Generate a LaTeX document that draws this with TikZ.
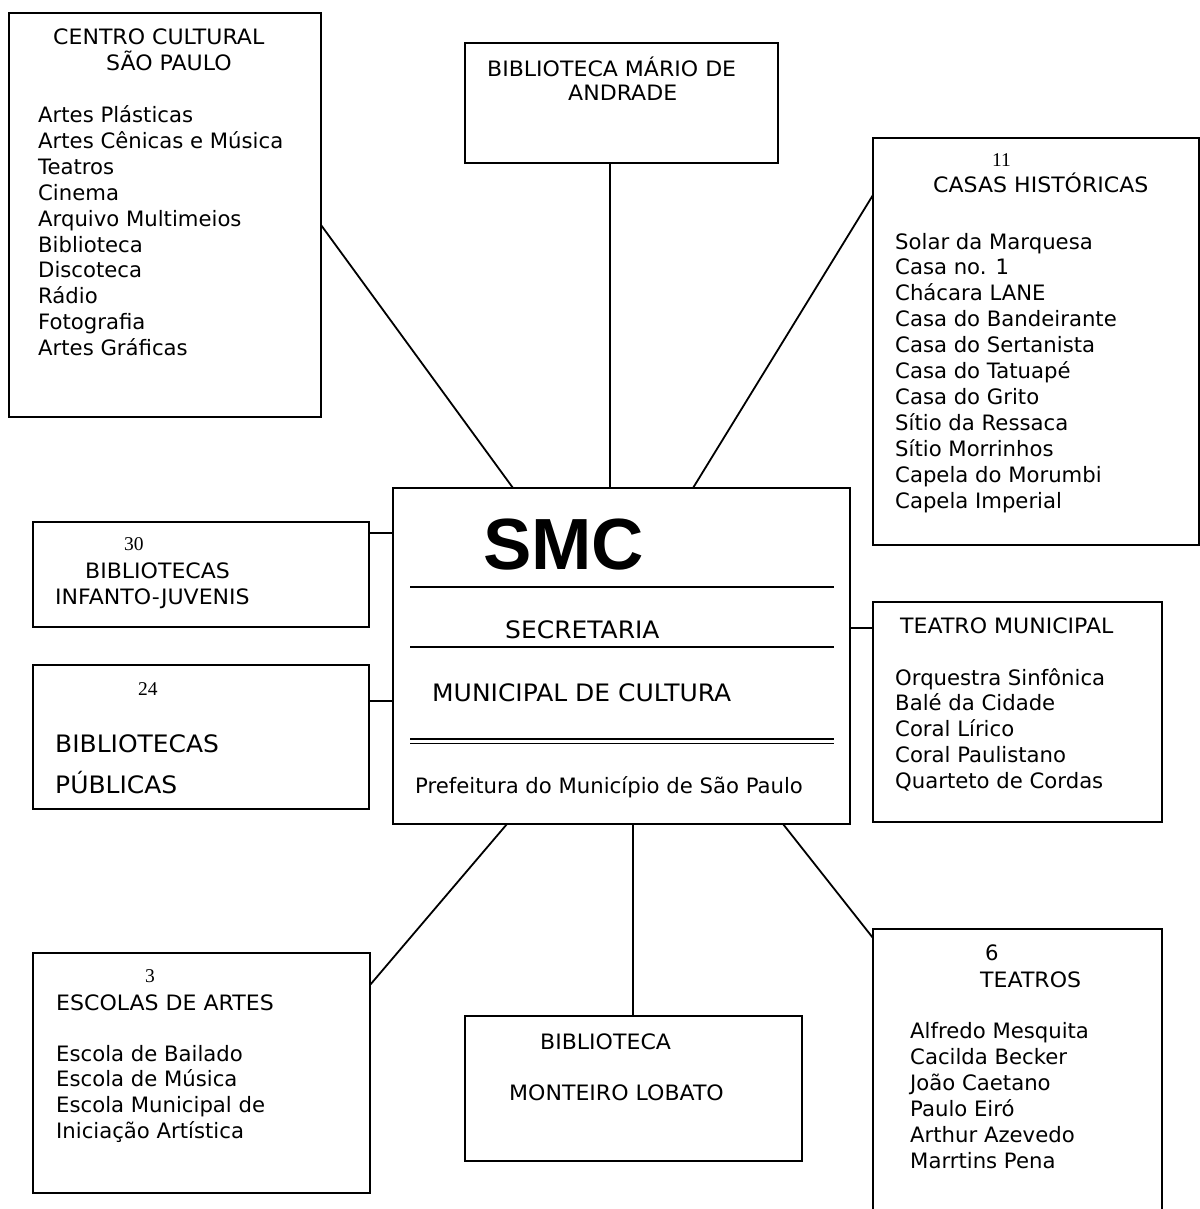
\documentclass[tikz,border=0pt]{standalone}
\usepackage{fontspec}
\setmainfont{DejaVu Sans}
\newfontfamily\numfam{Liberation Serif}
\newfontfamily\arialfam{Liberation Sans}
\newfontfamily\capsfam[FakeStretch=1.04]{DejaVu Sans}
\newcommand\txtf{\fontsize{21.2}{26}\selectfont}
\newcommand\captxtf{\capsfam\fontsize{21.2}{26}\selectfont}
\newcommand\bigcapf{\capsfam\fontsize{24}{28}\selectfont}
\newcommand\numf{\numfam\fontsize{19.5}{22}\selectfont}
\newcommand\smcf{\arialfam\bfseries\fontsize{72.5}{80}\selectfont}
\begin{document}
\begin{tikzpicture}[x=1pt,y=-1pt,
  box/.style={draw, line width=2pt, anchor=north west, inner sep=0pt, outer sep=0pt},
  openbox/.style={anchor=north west, inner sep=0pt, outer sep=0pt},
  txt/.style={anchor=base west, inner sep=0pt, font=\txtf},
  captxt/.style={anchor=base west, inner sep=0pt, font=\captxtf},
  bigcap/.style={anchor=base west, inner sep=0pt, font=\bigcapf},
  num/.style={anchor=base west, inner sep=0pt, font=\numf},
  link/.style={line width=1.8pt},
  rule/.style={line width=2.5pt},
  thinrule/.style={line width=1.6pt}]
\useasboundingbox (0,0) rectangle (1199,1209);
\fill[white] (0,0) rectangle (1199,1209);

% ---------- boxes ----------
\node[box, minimum width=312pt, minimum height=404pt] (ccsp) at (9,13) {};
\node[box, minimum width=313pt, minimum height=120pt] (bma) at (465,43) {};
\node[box, minimum width=326pt, minimum height=407pt] (casas) at (873,138) {};
\node[box, minimum width=457pt, minimum height=336pt] (smc) at (393,488) {};
\node[box, minimum width=336pt, minimum height=105pt] (b30) at (33,522) {};
\node[box, minimum width=336pt, minimum height=144pt] (b24) at (33,665) {};
\node[box, minimum width=289pt, minimum height=220pt] (tm) at (873,602) {};
\node[box, minimum width=337pt, minimum height=240pt] (esc) at (33,953) {};
\node[box, minimum width=337pt, minimum height=145pt] (ml) at (465,1016) {};
\node[openbox, minimum width=289pt, minimum height=285pt] (teat) at (873,929) {};
\draw[line width=2pt] (teat.south west) |- (teat.north east) -- (teat.south east);

% ---------- connectors ----------
\draw[link] ([yshift=-212pt]ccsp.north east) -- ([xshift=120pt]smc.north west);
\draw[link] ([xshift=145pt]bma.south west) -- ([xshift=217pt]smc.north west);
\draw[link] ([yshift=-57pt]casas.north west) -- ([xshift=300pt]smc.north west);
\draw[link] ([yshift=-11pt]b30.north east) -- ([yshift=-45pt]smc.north west);
\draw[link] ([yshift=-36pt]b24.north east) -- ([yshift=-213pt]smc.north west);
\draw[link] ([yshift=-140pt]smc.north east) -- ([yshift=-26pt]tm.north west);
\draw[link] ([xshift=114pt]smc.south west) -- ([yshift=-32pt]esc.north east);
\draw[link] ([xshift=240pt]smc.south west) -- ([xshift=168pt]ml.north west);
\draw[link] ([xshift=390pt]smc.south west) -- ([yshift=-9pt]teat.north west);

% ---------- SMC box contents ----------
\node[anchor=base west, inner sep=0pt, font=\smcf] (smct) at (483,569) {SMC};
\draw[rule] (410,587) -- (834,587);
\node[bigcap] (secr) at (505,638) {SECRETARIA};
\draw[rule] (410,647) -- (834,647);
\node[bigcap] (mdc) at (432,701) {MUNICIPAL DE CULTURA};
\draw[thinrule] (410,739) -- (834,739);
\draw[thinrule] (410,743.5) -- (834,743.5);
\node[txt] (pref) at (415,793) {Prefeitura do Município de São Paulo};

% ---------- Centro Cultural ----------
\node[captxt] (ccsp1) at (53,45) {CENTRO CULTURAL};
\node[captxt] (ccsp2) at (106,71) {SÃO PAULO};
\foreach \t [count=\i] in {Artes Plásticas, Artes Cênicas e Música, Teatros, Cinema,
  Arquivo Multimeios, Biblioteca, Discoteca, Rádio, Fotografia, Artes Gráficas}
  \node[txt] (ccspl\i) at (38,{123+25.8*(\i-1)}) {\t};

% ---------- Biblioteca Mario de Andrade ----------
\node[captxt] (bma1) at (487,77) {BIBLIOTECA MÁRIO DE};
\node[captxt] (bma2) at (568,101) {ANDRADE};

% ---------- Casas historicas ----------
\node[num] (casn) at (992,167) {11};
\node[captxt] (cas1) at (933,193) {CASAS HISTÓRICAS};
\foreach \t [count=\i] in {Solar da Marquesa, Casa no. 1, Chácara LANE, Casa do Bandeirante,
  Casa do Sertanista, Casa do Tatuapé, Casa do Grito, Sítio da Ressaca, Sítio Morrinhos,
  Capela do Morumbi, Capela Imperial}
  \node[txt] (casl\i) at (895,{249+25.9*(\i-1)}) {\t};

% ---------- 30 bibliotecas ----------
\node[num] (b30n) at (124,550) {30};
\node[captxt] (b30a) at (85,578) {BIBLIOTECAS};
\node[captxt] (b30b) at (55,604) {INFANTO-JUVENIS};

% ---------- 24 bibliotecas ----------
\node[num] (b24n) at (138,695) {24};
\node[bigcap] (b24a) at (55,752) {BIBLIOTECAS};
\node[bigcap] (b24b) at (55,793) {PÚBLICAS};

% ---------- Teatro Municipal ----------
\node[captxt] (tm1) at (900,633) {TEATRO MUNICIPAL};
\foreach \t [count=\i] in {Orquestra Sinfônica, Balé da Cidade, Coral Lírico,
  Coral Paulistano, Quarteto de Cordas}
  \node[txt] (tml\i) at (895,{685+25.75*(\i-1)}) {\t};

% ---------- Escolas de artes ----------
\node[num] (escn) at (145,982) {3};
\node[captxt] (esc1) at (56,1010) {ESCOLAS DE ARTES};
\foreach \t [count=\i] in {Escola de Bailado, Escola de Música, Escola Municipal de,
  Iniciação Artística}
  \node[txt] (escl\i) at (56,{1061+25.7*(\i-1)}) {\t};

% ---------- Monteiro Lobato ----------
\node[captxt] (ml1) at (540,1049) {BIBLIOTECA};
\node[captxt] (ml2) at (509,1100) {MONTEIRO LOBATO};

% ---------- Teatros ----------
\node[txt] (teatn) at (985,960) {6};
\node[captxt] (teat1) at (980,987) {TEATROS};
\foreach \t [count=\i] in {Alfredo Mesquita, Cacilda Becker, João Caetano, Paulo Eiró,
  Arthur Azevedo, Marrtins Pena}
  \node[txt] (teatl\i) at (910,{1038+26*(\i-1)}) {\t};
\end{tikzpicture}
\end{document}
